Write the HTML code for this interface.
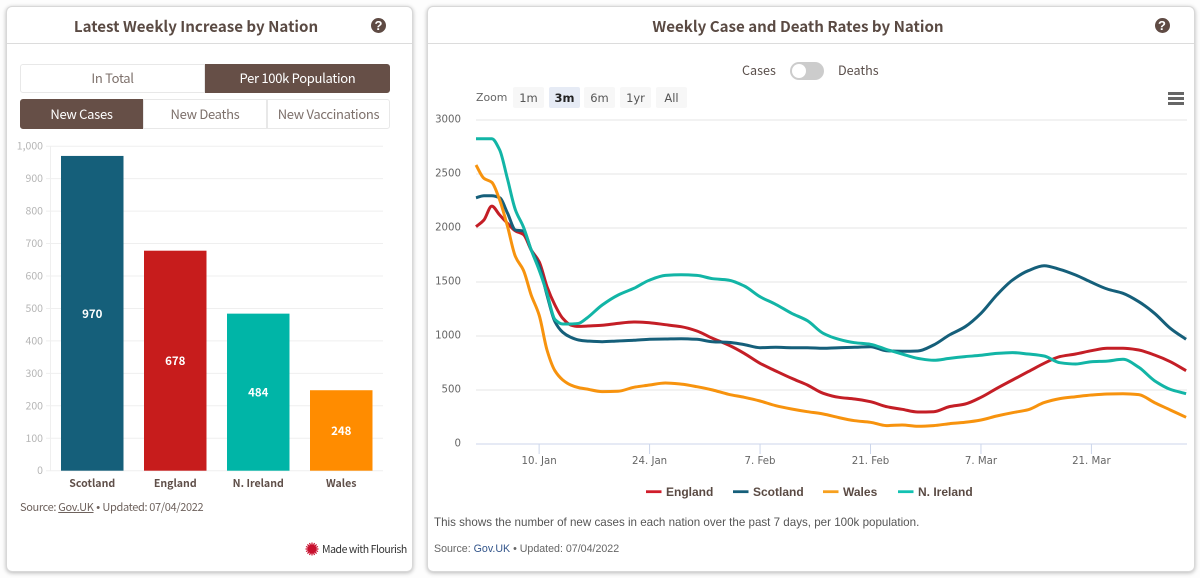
<!DOCTYPE html>
<html lang="en">
<head>
<meta charset="utf-8">
<title>Weekly Increase and Rates by Nation</title>
<style>
html,body{margin:0;padding:0;width:1200px;height:578px;overflow:hidden;background:#fdfdfd;}
body{position:relative;font-family:"Noto Sans CJK SC","Liberation Sans",sans-serif;color:#5f4b44;}
.abs{position:absolute;white-space:nowrap;}
.card{position:absolute;top:6px;height:566px;background:#fff;border:1px solid #d8d8d8;border-radius:6px;box-shadow:0 1px 4px rgba(0,0,0,.28);box-sizing:border-box;}
.title{position:absolute;top:25.5px;transform:translate(-50%,-50%);font-weight:700;font-size:15.1px;color:#5a4a43;white-space:nowrap;}
.rule{position:absolute;top:43px;height:1px;background:#dcdcdc;}
.help{position:absolute;top:18px;width:15px;height:15px;border-radius:50%;background:#5f4b44;color:#fff;font:700 13px/15px "Liberation Sans",sans-serif;text-align:center;}
.btn{position:absolute;box-sizing:border-box;border:1px solid #e8e8e8;background:#fff;color:#7d706b;font-size:13px;letter-spacing:-.3px;text-align:center;white-space:nowrap;}
.btn.on{background:#664f47;border-color:#664f47;color:#fff;}
.zb{position:absolute;top:87px;height:21px;background:#f7f7f7;border-radius:2px;font:11.5px/22px "DejaVu Sans",sans-serif;color:#555;text-align:center;}
.zb.on{background:#e6ebf5;color:#222;font-weight:700;}
svg{position:absolute;left:0;top:0;}
</style>
</head>
<body>
<div class="card" style="left:6px;width:407px"></div>
<div class="card" style="left:427px;width:768px"></div>

<div class="rule" style="left:7px;width:405px"></div>
<div class="rule" style="left:428px;width:766px"></div>
<div class="title" style="left:196px">Latest Weekly Increase by Nation</div>
<div class="title" style="left:798px">Weekly Case and Death Rates by Nation</div>
<div class="help" style="left:371px">?</div>
<div class="help" style="left:1154.5px">?</div>

<div class="btn" style="left:20px;top:64px;width:185px;height:29px;line-height:26px;border-radius:3px 0 0 3px">In Total</div>
<div class="btn on" style="left:205px;top:64px;width:185px;height:29px;line-height:26px;border-radius:0 3px 3px 0">Per 100k Population</div>
<div class="btn on" style="left:20px;top:99px;width:123px;height:30px;line-height:28px;border-radius:3px 0 0 3px">New Cases</div>
<div class="btn" style="left:143px;top:99px;width:124px;height:30px;line-height:28px">New Deaths</div>
<div class="btn" style="left:267px;top:99px;width:123px;height:30px;line-height:28px;border-radius:0 3px 3px 0">New Vaccinations</div>

<svg id="bar-chart" width="420" height="500"></svg>

<div class="abs" style="left:20px;top:499px;font-size:11px;line-height:17px;letter-spacing:-.35px;color:#6e625d">Source: <span style="text-decoration:underline">Gov.UK</span><span style="font-family:'Liberation Sans',sans-serif"> • </span>Updated: 07/04/2022</div>
<svg width="20" height="20" style="left:302px;top:539px">
<g stroke="#c8102e" stroke-width="1.2" fill="#c8102e">
<circle cx="10" cy="10" r="4"/>
<path d="M10 3.5V16.5M3.5 10H16.5M5.4 5.4L14.6 14.6M14.6 5.4L5.4 14.6M7.5 4L12.5 16M12.5 4L7.5 16M4 7.5L16 12.5M4 12.5L16 7.5"/>
</g></svg>
<div class="abs" style="left:322px;top:541px;font-size:10.5px;line-height:17px;letter-spacing:-.45px;color:#333">Made with Flourish</div>

<div class="abs" style="left:742px;top:60px;font-size:12.6px;line-height:19px;color:#5a4f4b">Cases</div>
<div class="abs" style="left:790px;top:62px;width:34px;height:18px;border-radius:9px;background:#ccc"><div style="position:absolute;left:2px;top:2px;width:14px;height:14px;border-radius:50%;background:#fff"></div></div>
<div class="abs" style="left:838px;top:60px;font-size:12.6px;line-height:19px;color:#5a4f4b">Deaths</div>

<div class="abs" style="left:476px;top:90px;font:10.9px/16px 'DejaVu Sans',sans-serif;color:#666">Zoom</div>
<div class="zb" style="left:513px;width:31px">1m</div>
<div class="zb on" style="left:549px;width:31px">3m</div>
<div class="zb" style="left:584px;width:31px">6m</div>
<div class="zb" style="left:620px;width:31px">1yr</div>
<div class="zb" style="left:656px;width:31px">All</div>
<div class="abs" style="left:1168px;top:92px;width:16px;height:13px;background:linear-gradient(#666 0 3px,#fff 3px 5px,#666 5px 8px,#fff 8px 10px,#666 10px 13px)"></div>

<svg id="line-chart" width="1200" height="510"></svg>

<div class="abs" style="left:434px;top:514.5px;font:11.6px/16px 'Liberation Sans',sans-serif;color:#555">This shows the number of new cases in each nation over the past 7 days, per 100k population.</div>
<div class="abs" style="left:434px;top:542px;font:10.65px/15px 'Liberation Sans',sans-serif;color:#666">Source: <span style="color:#34568b">Gov.UK</span> • Updated: 07/04/2022</div>

<script>
var barCategories = ['Scotland', 'England', 'N. Ireland', 'Wales'];
var barValues = [970, 678, 484, 248];
var barColors = ['#155f7a', '#c71c1c', '#00b5a7', '#ff8c00'];
var barTicks = [0, 100, 200, 300, 400, 500, 600, 700, 800, 900, 1000];

var lineDays = [0,1,2,3,4,5,6,7,8,9,10,11,12,13,14,16,18,20,22,24,26,28,30,32,34,36,38,40,42,44,46,48,50,52,54,56,58,60,62,64,66,68,70,72,74,76,78,80,82,84,86,88,90];
var englandValues = [2012,2074,2203,2120,2043,1972,1941,1796,1688,1457,1287,1163,1102,1089,1092,1099,1117,1130,1123,1105,1086,1046,978,917,839,747,676,608,546,469,432,417,392,346,321,296,299,346,370,432,515,593,670,747,809,833,864,886,886,870,824,762,679];
var scotlandValues = [2280,2299,2299,2280,2136,1981,1972,1796,1650,1379,1133,1034,988,963,954,947,954,960,969,972,975,969,947,941,920,892,895,892,892,886,892,895,901,864,858,861,917,1009,1086,1210,1379,1518,1605,1651,1617,1565,1497,1435,1395,1318,1210,1071,969];
var walesValues = [2583,2460,2423,2259,2012,1734,1611,1379,1194,870,679,593,546,522,509,485,488,525,546,565,555,531,500,460,432,398,355,324,299,278,244,216,201,170,176,164,170,188,201,222,259,290,318,383,420,438,454,463,466,457,383,315,247];
var irelandValues = [2827,2827,2827,2722,2450,2166,2012,1796,1611,1395,1154,1111,1111,1117,1163,1287,1379,1441,1518,1561,1568,1561,1531,1518,1463,1364,1293,1210,1142,1025,969,938,923,876,833,793,775,793,809,821,839,846,833,815,753,741,762,768,784,710,586,506,466];
var lineTicks = [0, 500, 1000, 1500, 2000, 2500, 3000];
var dateTickDays = [8, 22, 36, 50, 64, 78];
var dateTickLabels = ['10. Jan', '24. Jan', '7. Feb', '21. Feb', '7. Mar', '21. Mar'];
var seriesNames = ['England', 'Scotland', 'Wales', 'N. Ireland'];

var NS = 'http://www.w3.org/2000/svg';
function make(parent, tag, attrs, text) {
  var el = document.createElementNS(NS, tag);
  for (var k in attrs) { el.setAttribute(k, attrs[k]); }
  if (text !== undefined) { el.textContent = text; }
  parent.appendChild(el);
  return el;
}

/* ---------- bar chart ---------- */
var barSvg = document.getElementById('bar-chart');
function barY(v) { return 470.7 - v * 0.3245; }
function barX(i) { return 61 + i * 83; }
var SANS = '"Noto Sans CJK SC","Liberation Sans",sans-serif';

barTicks.forEach(function (t) {
  var grid = make(barSvg, 'line', {x1: 46, x2: 383, y1: barY(t), y2: barY(t), stroke: '#efefef', 'stroke-width': 1});
  
  
  var lab = make(barSvg, 'text', {x: 43, y: barY(t) + 3.5, 'text-anchor': 'end', 'font-size': 10.5, 'font-family': SANS, fill: '#b5b5b5'}, t >= 1000 ? t.toLocaleString('en-US') : String(t));
  
  
});
var barAxis = make(barSvg, 'line', {x1: 50.5, x2: 50.5, y1: barY(1000), y2: barY(0), stroke: '#efefef', 'stroke-width': 1});



barValues.forEach(function (v, i) {
  var rect = make(barSvg, 'rect', {x: barX(i), y: barY(v), width: 62.5, height: barY(0) - barY(v), fill: barColors[i]});
  
  
  var val = make(barSvg, 'text', {x: barX(i) + 31.25, y: (barY(v) + barY(0)) / 2 + 4.5, 'text-anchor': 'middle', 'font-size': 11.5, 'font-weight': 700, 'font-family': SANS, fill: '#fff'}, String(v));
  
  
  var cat = make(barSvg, 'text', {x: barX(i) + 31.25, y: 487, 'text-anchor': 'middle', 'font-size': 10.6, 'font-weight': 700, 'font-family': SANS, fill: '#5f4f49'}, barCategories[i]);
  
  
});

/* ---------- line chart ---------- */
var lineSvg = document.getElementById('line-chart');
function xDay(d) { return 476 + d * 7.89; }
function yVal(v) { return 444 - v * 0.108; }
var VERD = '"DejaVu Sans",sans-serif';

lineTicks.forEach(function (t) {
  var grid = make(lineSvg, 'line', {x1: 476, x2: 1187, y1: yVal(t), y2: yVal(t), stroke: t === 0 ? '#ccd6eb' : '#e6e6e6', 'stroke-width': 1});
  
  
  var lab = make(lineSvg, 'text', {x: 461, y: yVal(t) + 2.5, 'text-anchor': 'end', 'font-size': 10.2, 'font-family': VERD, fill: '#666'}, String(t));
  
  
});

dateTickDays.forEach(function (d, i) {
  var tick = make(lineSvg, 'line', {x1: xDay(d), x2: xDay(d), y1: 444, y2: 454, stroke: '#ccd6eb', 'stroke-width': 1});
  
  
  var lab = make(lineSvg, 'text', {x: xDay(d), y: 464, 'text-anchor': 'middle', 'font-size': 10.2, 'font-family': VERD, fill: '#666'}, dateTickLabels[i]);
  
  
});

function smoothPath(values) {
  var pts = values.map(function (v, i) { return [xDay(lineDays[i]), yVal(v)]; });
  var n = pts.length, slopes = [], tangents = [];
  for (var s = 0; s < n - 1; s++) {
    slopes.push((pts[s + 1][1] - pts[s][1]) / (pts[s + 1][0] - pts[s][0]));
  }
  tangents.push(slopes[0]);
  for (var t = 1; t < n - 1; t++) {
    var a = slopes[t - 1], b = slopes[t];
    tangents.push(a * b <= 0 ? 0 : 2 * a * b / (a + b));
  }
  tangents.push(slopes[n - 2]);
  var d = 'M' + pts[0][0].toFixed(1) + ' ' + pts[0][1].toFixed(1);
  for (var i = 0; i < n - 1; i++) {
    var h = (pts[i + 1][0] - pts[i][0]) / 3;
    d += 'C' + (pts[i][0] + h).toFixed(1) + ' ' + (pts[i][1] + tangents[i] * h).toFixed(1) + ' ' + (pts[i + 1][0] - h).toFixed(1) + ' ' + (pts[i + 1][1] - tangents[i + 1] * h).toFixed(1) + ' ' + pts[i + 1][0].toFixed(1) + ' ' + pts[i + 1][1].toFixed(1);
  }
  return d;
}
function drawSeries(values, color, name) {
  var line = make(lineSvg, 'path', {d: smoothPath(values), fill: 'none', stroke: color, 'stroke-width': 3, 'stroke-linejoin': 'round', 'stroke-linecap': 'butt'});
  
  
}
drawSeries(englandValues, '#c41e26', 'england-line');
drawSeries(scotlandValues, '#155f7a', 'scotland-line');
drawSeries(walesValues, '#f7930e', 'wales-line');
drawSeries(irelandValues, '#12b5a6', 'n-ireland-line');

var legendColors = ['#d01c2a', '#155f7a', '#f7a01e', '#12c2b2'];
var legendStarts = [646, 733, 823, 898];
seriesNames.forEach(function (n, i) {
  var key = make(lineSvg, 'line', {x1: legendStarts[i], x2: legendStarts[i] + 15.5, y1: 491.7, y2: 491.7, stroke: legendColors[i], 'stroke-width': 2.8});
  
  
  var lab = make(lineSvg, 'text', {x: legendStarts[i] + 20, y: 496.2, 'font-size': 12, 'font-weight': 700, 'font-family': '"Liberation Sans",sans-serif', fill: '#5a4a43'}, n);
  
  
});
</script>
</body>
</html>
